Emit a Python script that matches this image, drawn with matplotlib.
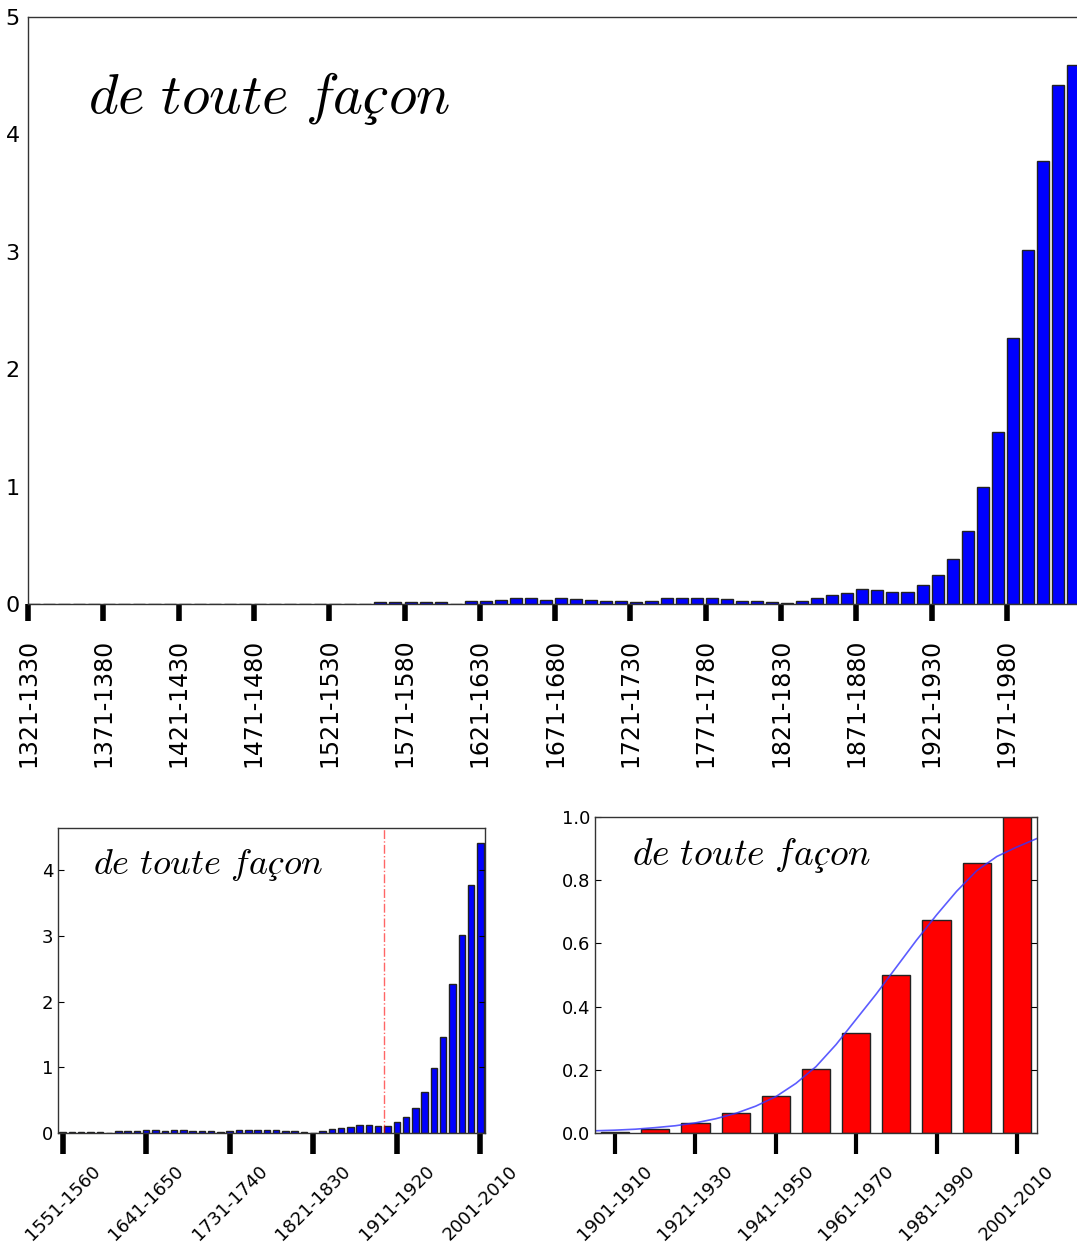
"""
Three bar charts of decade frequencies for "de toute façon".
"""
import matplotlib

matplotlib.use("Agg")
import matplotlib.pyplot as plt

plt.rcParams["mathtext.fontset"] = "cm"
plt.rcParams["font.family"] = "DejaVu Sans"

# decades 1321-1330 ... 2011-2020
start_years = list(range(1321, 2021, 10))
decades = [f"{y}-{y + 9}" for y in start_years]

# frequency per decade
freq = [
    0, 0, 0, 0, 0, 0, 0, 0, 0, 0,
    0, 0, 0, 0, 0, 0, 0, 0, 0, 0,
    0, 0, 0, 0.017, 0.017, 0.017, 0.017, 0.017, 0, 0.026,
    0.026, 0.034, 0.051, 0.051, 0.034, 0.051, 0.042, 0.032, 0.024, 0.024,
    0.014, 0.024, 0.051, 0.051, 0.051, 0.051, 0.042, 0.024, 0.024, 0.015,
    0.007, 0.026, 0.055, 0.08, 0.09, 0.125, 0.115, 0.105, 0.105, 0.16,
    0.245, 0.385, 0.62, 0.995, 1.465, 2.265, 3.015, 3.775, 4.425, 4.59,
]

# zoom window: 1551-1560 .. 2001-2010
zoom_first, zoom_last = 23, 68
zoom_marker = 34.65  # red dash-dot line, start of the 20th century

# 20th century, normalised
recent_labels = ["1901-1910", "1911-1920", "1921-1930", "1931-1940", "1941-1950",
                 "1951-1960", "1961-1970", "1971-1980", "1981-1990", "1991-2000",
                 "2001-2010"]
recent_norm = [0.002, 0.013, 0.033, 0.064, 0.117, 0.202, 0.315, 0.50, 0.673, 0.854, 1.0]

# fitted curve
fit_x = [-0.5, 0, 0.5, 1, 1.5, 2, 2.5, 3, 3.5, 4, 4.5, 5, 5.5, 6, 6.5, 7, 7.5,
         8, 8.5, 9, 9.5, 10, 10.5]
fit_y = [0.007, 0.009, 0.012, 0.017, 0.023, 0.032, 0.045, 0.062, 0.085, 0.115,
         0.157, 0.21, 0.28, 0.36, 0.44, 0.525, 0.61, 0.69, 0.765, 0.83, 0.875,
         0.905, 0.932]

title = r"$de\ toute\ façon$"

W, H = 1077, 1251
fig = plt.figure(figsize=(W / 100, H / 100), dpi=100)


def px_axes(left, top, right, bottom):
    return fig.add_axes([left / W, 1 - bottom / H, (right - left) / W, (bottom - top) / H])


edge = "#222222"

# --- top: full range ---
ax1 = px_axes(28, 17, 28 + 70 * 15.06, 604)
ax1.bar(range(len(freq)), freq, width=0.8, align="edge", color="#0000ff",
        edgecolor=edge, linewidth=1)
ax1.set_xlim(0, 70)
ax1.set_ylim(0, 5)
ticks = list(range(0, 66, 5))
ax1.set_xticks(ticks)
ax1.set_xticklabels([decades[i] for i in ticks])
ax1.tick_params(axis="x", direction="out", length=12, width=4, labelsize=17,
                pad=13, rotation=90, top=False)
ax1.tick_params(axis="y", length=0, labelsize=16, pad=6)
ax1.text(0.057, 0.836, title, transform=ax1.transAxes, fontsize=41,
         ha="left", va="baseline")

# --- bottom left: from 1551 ---
zoom_vals = freq[zoom_first:zoom_last + 1]
zoom_labels = decades[zoom_first:zoom_last + 1]
ax2 = px_axes(58, 828, 485, 1133)
ax2.bar(range(len(zoom_vals)), zoom_vals, width=0.7, color="#0000ff",
        edgecolor=edge, linewidth=1)
ax2.axvline(zoom_marker, color="red", linestyle="-.", linewidth=1, alpha=0.6)
ax2.set_xlim(-0.5, len(zoom_vals) - 0.5)
ax2.set_ylim(0, max(zoom_vals) * 1.05)
ticks2 = list(range(0, len(zoom_vals), 9))
ax2.set_xticks(ticks2)
ax2.set_xticklabels([zoom_labels[i] for i in ticks2])
ax2.set_yticks([0, 1, 2, 3, 4])
ax2.tick_params(axis="x", direction="out", length=15, width=4, labelsize=13,
                pad=6, rotation=45, top=False)
ax2.tick_params(axis="y", direction="in", length=4, labelsize=13, right=True)
ax2.text(0.082, 0.849, title, transform=ax2.transAxes, fontsize=26,
         ha="left", va="baseline")

# --- bottom right: 20th century with fit ---
ax3 = px_axes(595, 817, 1037, 1133)
ax3.bar(range(len(recent_norm)), recent_norm, width=0.7, color="#ff0000",
        edgecolor=edge, linewidth=1)
ax3.plot(fit_x, fit_y, color="#3333ff", linewidth=1.2, alpha=0.8)
ax3.set_xlim(-0.5, len(recent_norm) - 0.5)
ax3.set_ylim(0, 1)
ticks3 = list(range(0, len(recent_norm), 2))
ax3.set_xticks(ticks3)
ax3.set_xticklabels([recent_labels[i] for i in ticks3])
ax3.tick_params(axis="x", direction="out", length=15, width=3, labelsize=13,
                pad=6, rotation=45, top=False)
ax3.tick_params(axis="y", direction="in", length=4, labelsize=13, right=True)
ax3.text(0.084, 0.848, title, transform=ax3.transAxes, fontsize=27,
         ha="left", va="baseline")

for ax in (ax1, ax2, ax3):
    for sp in ax.spines.values():
        sp.set_color("#333333")
        sp.set_linewidth(1)

fig.savefig("out.png", dpi=100)
